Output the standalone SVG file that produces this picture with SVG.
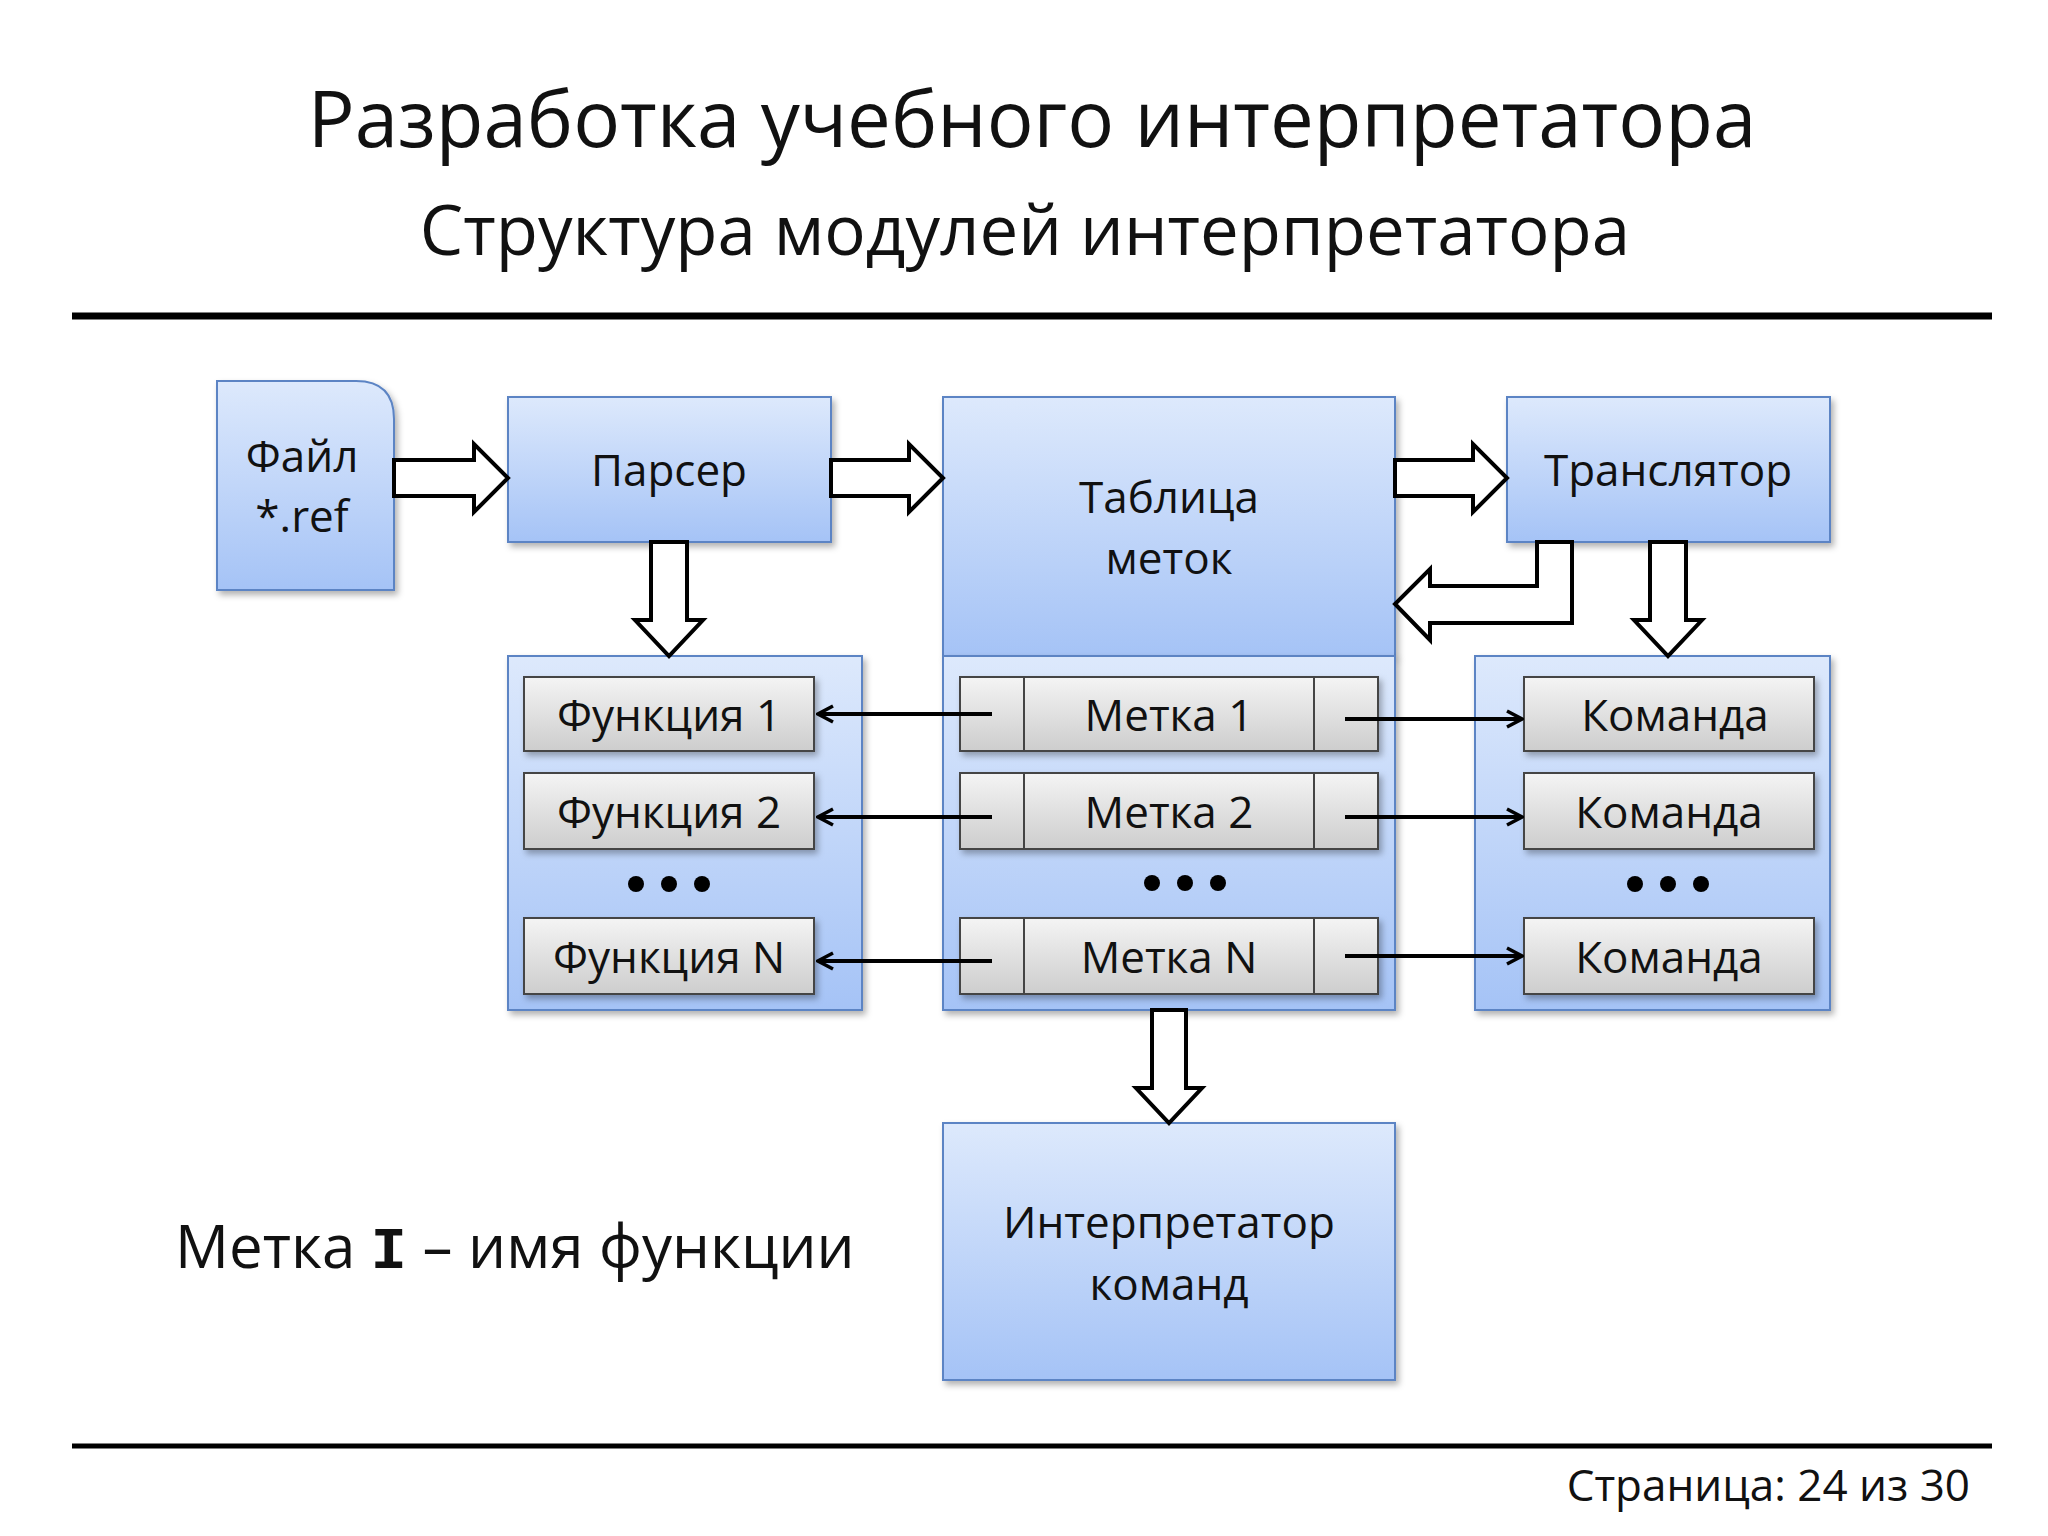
<svg xmlns="http://www.w3.org/2000/svg" width="2048" height="1536" viewBox="0 0 2048 1536">
<defs>
<linearGradient id="blue" x1="0" y1="0" x2="0" y2="1"><stop offset="0" stop-color="#dde9fc"/><stop offset="1" stop-color="#a5c3f6"/></linearGradient>
<linearGradient id="gray" x1="0" y1="0" x2="0" y2="1"><stop offset="0" stop-color="#f4f4f4"/><stop offset="1" stop-color="#cdcdcd"/></linearGradient>
<filter id="sh" x="-10%" y="-10%" width="130%" height="130%"><feDropShadow dx="3" dy="4" stdDeviation="3" flood-color="#000" flood-opacity="0.3"/></filter>
<marker id="ah" viewBox="0 0 20 20" refX="18" refY="10" markerWidth="20" markerHeight="20" markerUnits="userSpaceOnUse" orient="auto"><path d="M3,2 L18,10 L3,18" fill="none" stroke="#000" stroke-width="3.5"/></marker>
<style>
.bx{fill:url(#blue);stroke:#5b84c4;stroke-width:2;filter:url(#sh)}
.gr{fill:url(#gray);stroke:#444;stroke-width:2;filter:url(#sh)}
.t{font-family:"Open Sans","Noto Sans",sans-serif;font-size:44px;text-anchor:middle;fill:#111}
.blk{fill:#fff;stroke:#000;stroke-width:4;stroke-linejoin:miter}
.thin{stroke:#000;stroke-width:4;fill:none;marker-end:url(#ah)}
.dv{stroke:#444;stroke-width:2}
</style>
</defs>
<rect width="2048" height="1536" fill="#fff"/>
<text x="1032" y="147" class="t" style="font-size:78px">Разработка учебного интерпретатора</text>
<text x="1025" y="255" class="t" style="font-size:69px">Структура модулей интерпретатора</text>
<line x1="72" y1="316" x2="1992" y2="316" stroke="#000" stroke-width="7"/>
<line x1="72" y1="1446" x2="1992" y2="1446" stroke="#000" stroke-width="5"/>
<text x="1970" y="1501" class="t" style="text-anchor:end;font-size:44px">Страница: 24 из 30</text>

<g id="file"><path class="bx" d="M217,381 H356 Q394,381 394,419 V590 H217 Z"/><text x="302" y="472" class="t">Файл</text><text x="302" y="532" class="t">*.ref</text></g>
<g id="parser"><rect class="bx" x="508" y="397" width="323" height="145"/><text x="669" y="486" class="t">Парсер</text></g>
<g id="table"><rect class="bx" x="943" y="397" width="452" height="259"/><text x="1169" y="513" class="t">Таблица</text><text x="1169" y="574" class="t">меток</text></g>
<g id="translator"><rect class="bx" x="1507" y="397" width="323" height="145"/><text x="1668" y="486" class="t">Транслятор</text></g>
<g id="functions"><rect class="bx" x="508" y="656" width="354" height="354"/>
<rect class="gr" x="524" y="677" width="290" height="74"/><text x="669" y="731" class="t">Функция 1</text>
<rect class="gr" x="524" y="773" width="290" height="76"/><text x="669" y="828" class="t">Функция 2</text>
<g fill="#000"><circle cx="636" cy="884" r="8"/><circle cx="669" cy="884" r="8"/><circle cx="702" cy="884" r="8"/></g>
<rect class="gr" x="524" y="918" width="290" height="76"/><text x="669" y="973" class="t">Функция N</text></g>
<g id="labels"><rect class="bx" x="943" y="656" width="452" height="354"/>
<rect class="gr" x="960" y="677" width="418" height="74"/><line class="dv" x1="1024" y1="677" x2="1024" y2="751"/><line class="dv" x1="1314" y1="677" x2="1314" y2="751"/><text x="1169" y="731" class="t">Метка 1</text>
<rect class="gr" x="960" y="773" width="418" height="76"/><line class="dv" x1="1024" y1="773" x2="1024" y2="849"/><line class="dv" x1="1314" y1="773" x2="1314" y2="849"/><text x="1169" y="828" class="t">Метка 2</text>
<g fill="#000"><circle cx="1152" cy="883" r="8"/><circle cx="1185" cy="883" r="8"/><circle cx="1218" cy="883" r="8"/></g>
<rect class="gr" x="960" y="918" width="418" height="76"/><line class="dv" x1="1024" y1="918" x2="1024" y2="994"/><line class="dv" x1="1314" y1="918" x2="1314" y2="994"/><text x="1169" y="973" class="t">Метка N</text></g>
<g id="commands"><rect class="bx" x="1475" y="656" width="355" height="354"/>
<rect class="gr" x="1524" y="677" width="290" height="74"/><text x="1675" y="731" class="t">Команда</text>
<rect class="gr" x="1524" y="773" width="290" height="76"/><text x="1669" y="828" class="t">Команда</text>
<g fill="#000"><circle cx="1635" cy="884" r="8"/><circle cx="1668" cy="884" r="8"/><circle cx="1701" cy="884" r="8"/></g>
<rect class="gr" x="1524" y="918" width="290" height="76"/><text x="1669" y="973" class="t">Команда</text></g>
<g id="interpreter"><rect class="bx" x="943" y="1123" width="452" height="257"/><text x="1169" y="1238" class="t">Интерпретатор</text><text x="1169" y="1300" class="t">команд</text></g>

<g id="connectors">
<path class="blk" d="M394,460 H474 V444 L508,478 L474,512 V496 H394 Z"/>
<path class="blk" d="M831,460 H909 V444 L943,478 L909,512 V496 H831 Z"/>
<path class="blk" d="M1395,460 H1473 V444 L1507,478 L1473,512 V496 H1395 Z"/>
<path class="blk" d="M651,542 H687 V620 H703 L669,656 L635,620 H651 Z"/>
<path class="blk" d="M1650,542 H1686 V620 H1702 L1668,656 L1634,620 H1650 Z"/>
<path class="blk" d="M1537,542 H1572 V623 H1430 V640 L1395,604 L1430,569 V586 H1537 Z"/>
<path class="blk" d="M1152,1010 H1186 V1088 H1202 L1169,1123 L1136,1088 H1152 Z"/>
<line class="thin" x1="992" y1="714" x2="818" y2="714"/>
<line class="thin" x1="992" y1="817" x2="818" y2="817"/>
<line class="thin" x1="992" y1="961" x2="818" y2="961"/>
<line class="thin" x1="1345" y1="719" x2="1522" y2="719"/>
<line class="thin" x1="1345" y1="817" x2="1522" y2="817"/>
<line class="thin" x1="1345" y1="956" x2="1522" y2="956"/>
</g>
<text x="175" y="1268" style="font-family:'Open Sans','Noto Sans',sans-serif;font-size:60px;fill:#111">Метка <tspan style="font-family:'Liberation Mono',monospace;font-weight:bold">I</tspan> – имя функции</text>
</svg>
